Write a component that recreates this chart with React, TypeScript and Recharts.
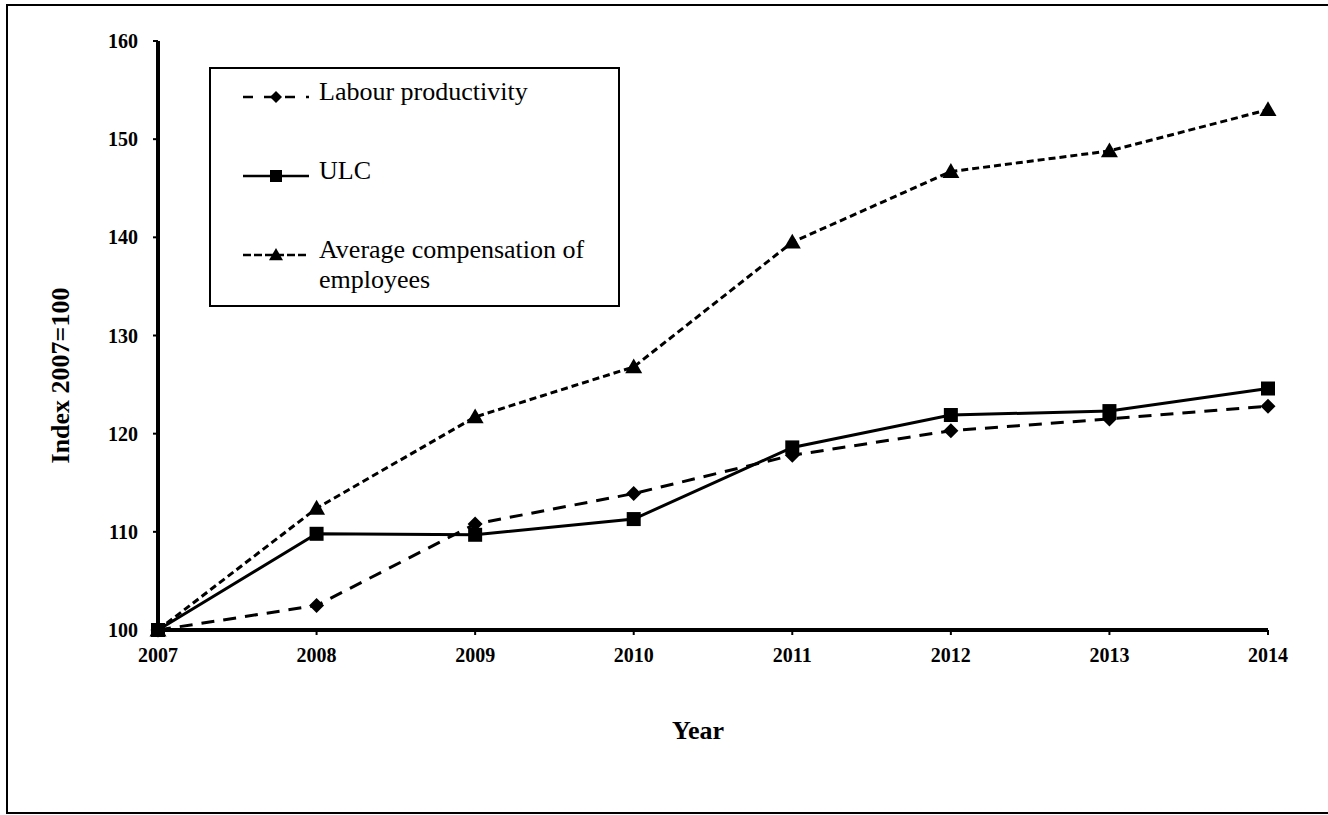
import { Legend, Line, LineChart, XAxis, YAxis } from 'recharts';

const YEARS = ['2007', '2008', '2009', '2010', '2011', '2012', '2013', '2014'];
const LABOUR_PRODUCTIVITY = [100, 102.5, 110.8, 113.9, 117.8, 120.3, 121.5, 122.8];
const ULC = [100, 109.8, 109.7, 111.3, 118.6, 121.9, 122.3, 124.6];
const AVG_COMPENSATION = [100, 112.4, 121.7, 126.8, 139.5, 146.7, 148.8, 153];
const Y_TICKS = [100, 110, 120, 130, 140, 150, 160];

const data = YEARS.map((year, i) => ({
  year,
  labour: LABOUR_PRODUCTIVITY[i],
  ulc: ULC[i],
  avg: AVG_COMPENSATION[i],
}));

const FONT = "'Liberation Serif', 'Times New Roman', serif";

function Diamond({ cx, cy, r = 7 }: { cx?: number; cy?: number; r?: number }) {
  if (cx == null || cy == null) return null;
  return (
    <polygon
      points={`${cx},${cy - r} ${cx + r},${cy} ${cx},${cy + r} ${cx - r},${cy}`}
      fill="#000"
    />
  );
}

function Square({ cx, cy, s = 7 }: { cx?: number; cy?: number; s?: number }) {
  if (cx == null || cy == null) return null;
  return <rect x={cx - s} y={cy - s} width={s * 2} height={s * 2} fill="#000" />;
}

function Triangle({ cx, cy, s = 8 }: { cx?: number; cy?: number; s?: number }) {
  if (cx == null || cy == null) return null;
  return (
    <polygon
      points={`${cx},${cy - s} ${cx + s},${cy + s * 0.75} ${cx - s},${cy + s * 0.75}`}
      fill="#000"
    />
  );
}

function LegendBox() {
  const row = (top: number, icon: React.ReactNode, text: React.ReactNode) => (
    <div style={{ position: 'absolute', left: 30, top, display: 'flex', alignItems: 'flex-start' }}>
      <svg width={70} height={20} style={{ marginTop: 10 }}>
        {icon}
      </svg>
      <div style={{ marginLeft: 8, fontSize: 26, lineHeight: '30px' }}>{text}</div>
    </div>
  );
  return (
    <div
      style={{
        width: 411,
        height: 240,
        border: '2px solid #000',
        boxSizing: 'border-box',
        background: '#fff',
        position: 'relative',
        fontFamily: FONT,
        color: '#000',
      }}
    >
      {row(
        8,
        <>
          <line x1={2} y1={10} x2={68} y2={10} stroke="#000" strokeWidth={2.5} strokeDasharray="10 11" />
          <Diamond cx={35} cy={10} r={6} />
        </>,
        'Labour productivity',
      )}
      {row(
        87,
        <>
          <line x1={2} y1={10} x2={68} y2={10} stroke="#000" strokeWidth={2.5} />
          <Square cx={35} cy={10} s={6} />
        </>,
        'ULC',
      )}
      {row(
        166,
        <>
          <line x1={2} y1={10} x2={68} y2={10} stroke="#000" strokeWidth={2.5} strokeDasharray="8 3" />
          <Triangle cx={35} cy={10} s={7} />
        </>,
        <>
          Average compensation of
          <br />
          employees
        </>,
      )}
    </div>
  );
}

export default function App() {
  return (
    <div
      style={{
        position: 'absolute',
        left: 0,
        top: 0,
        width: 1328,
        height: 815,
        overflow: 'hidden',
        background: '#fff',
        fontFamily: FONT,
      }}
    >
      <div
        style={{
          position: 'absolute',
          left: 6,
          top: 4,
          width: 1340,
          height: 810,
          border: '2px solid #000',
          boxSizing: 'border-box',
        }}
      />
      <div style={{ position: 'absolute', left: 0, top: 0 }}>
        <LineChart
          width={1328}
          height={815}
          data={data}
          margin={{ top: 41, right: 60, left: 98, bottom: 145 }}
          style={{ fontFamily: FONT }}
        >
          <XAxis
            dataKey="year"
            height={40}
            axisLine={{ stroke: '#000', strokeWidth: 4 }}
            tickLine={{ stroke: '#000', strokeWidth: 2 }}
            tickSize={5}
            tickMargin={13}
            tick={{ fill: '#000', fontSize: 20, fontWeight: 'bold', fontFamily: FONT }}
            interval={0}
            label={({ viewBox }: any) => (
              <text
                x={viewBox.x + viewBox.width / 2 - 15}
                y={viewBox.y + 109}
                textAnchor="middle"
                fontSize={26}
                fontWeight="bold"
                fontFamily={FONT}
                fill="#000"
              >
                Year
              </text>
            )}
          />
          <YAxis
            width={60}
            domain={[100, 160]}
            ticks={Y_TICKS}
            interval={0}
            axisLine={{ stroke: '#000', strokeWidth: 4 }}
            tickLine={{ stroke: '#000', strokeWidth: 2 }}
            tickSize={5}
            tickMargin={15}
            tick={{ fill: '#000', fontSize: 20, fontWeight: 'bold', fontFamily: FONT }}
            label={({ viewBox }: any) => {
              const x = viewBox.x - 38;
              const y = viewBox.y + viewBox.height / 2 + 40;
              return (
                <text
                  x={x}
                  y={y}
                  transform={`rotate(-90 ${x} ${y})`}
                  textAnchor="middle"
                  dominantBaseline="central"
                  fontSize={26}
                  fontWeight="bold"
                  fontFamily={FONT}
                  fill="#000"
                >
                  Index 2007=100
                </text>
              );
            }}
          />
          <Legend
            layout="horizontal"
            align="center"
            verticalAlign="middle"
            wrapperStyle={{ left: 209, top: 67, width: 411, height: 240 }}
            content={() => <LegendBox />}
          />
          <Line
            dataKey="labour"
            name="Labour productivity"
            stroke="#000"
            strokeWidth={3}
            strokeDasharray="13 9"
            dot={(p: any) => <Diamond key={`l-${p.index}`} cx={p.cx} cy={p.cy} r={7.5} />}
            activeDot={false}
            isAnimationActive={false}
          />
          <Line
            dataKey="ulc"
            name="ULC"
            stroke="#000"
            strokeWidth={3}
            dot={(p: any) => <Square key={`u-${p.index}`} cx={p.cx} cy={p.cy} s={7} />}
            activeDot={false}
            isAnimationActive={false}
          />
          <Line
            dataKey="avg"
            name="Average compensation of employees"
            stroke="#000"
            strokeWidth={3}
            strokeDasharray="7 4"
            dot={(p: any) => <Triangle key={`a-${p.index}`} cx={p.cx} cy={p.cy} s={8.5} />}
            activeDot={false}
            isAnimationActive={false}
          />
        </LineChart>
      </div>
    </div>
  );
}
